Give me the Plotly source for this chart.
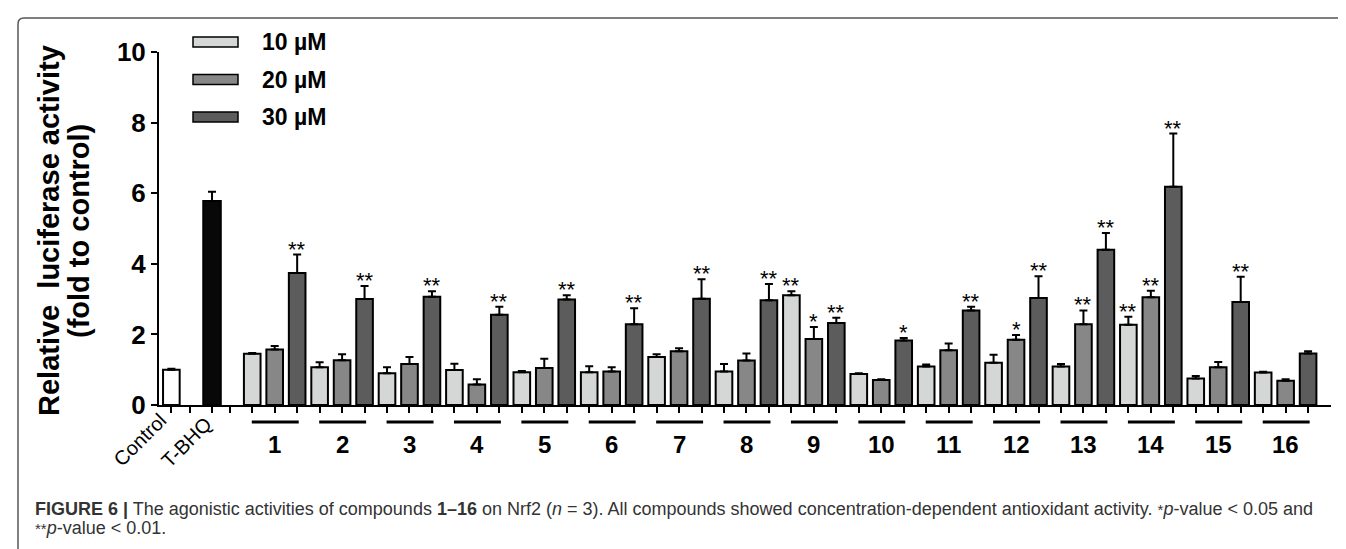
import plotly.graph_objects as go

# ---------------- data ----------------
compounds = [str(i) for i in range(1, 17)]
concentrations = ["10 µM", "20 µM", "30 µM"]

control_val, control_err = 1.00, 0.03
tbhq_val, tbhq_err = 5.78, 0.26

c10 = [1.45, 1.07, 0.90, 0.99, 0.93, 0.93, 1.36, 0.95, 3.11, 0.88, 1.09, 1.20, 1.09, 2.27, 0.75, 0.92]
e10 = [0.02, 0.14, 0.17, 0.18, 0.03, 0.17, 0.08, 0.21, 0.11, 0.02, 0.06, 0.22, 0.07, 0.23, 0.07, 0.02]
c20 = [1.57, 1.27, 1.16, 0.58, 1.05, 0.95, 1.52, 1.26, 1.87, 0.71, 1.55, 1.85, 2.29, 3.05, 1.07, 0.69]
e20 = [0.10, 0.17, 0.20, 0.15, 0.26, 0.12, 0.09, 0.20, 0.34, 0.02, 0.19, 0.13, 0.39, 0.19, 0.15, 0.04]
c30 = [3.74, 3.00, 3.07, 2.56, 2.99, 2.29, 3.01, 2.97, 2.32, 1.83, 2.68, 3.03, 4.40, 6.18, 2.92, 1.46]
e30 = [0.52, 0.37, 0.15, 0.22, 0.12, 0.45, 0.55, 0.46, 0.15, 0.07, 0.10, 0.62, 0.47, 1.51, 0.71, 0.06]

sig10 = ["", "", "", "", "", "", "", "", "**", "", "", "", "", "**", "", ""]
sig20 = ["", "", "", "", "", "", "", "", "*", "", "", "*", "**", "**", "", ""]
sig30 = ["**", "**", "**", "**", "**", "**", "**", "**", "**", "*", "**", "**", "**", "**", "**", ""]

y_ticks = [0, 2, 4, 6, 8, 10]

# ---------------- layout constants ----------------
W, H = 1346, 549
L, R, T, B = 151, 1323, 44, 397
FONT = "Arial, Liberation Sans, sans-serif"
fills = ["#d5d7d6", "#878787", "#5c5c5c"]

# slot positions (x data units): control & T-BHQ slots are slightly narrower
pos_control, pos_gap1, pos_tbhq, pos_gap2 = 0.40, 1.22, 2.21, 3.02
group_start = 4


def pos(k, j):
    return group_start + 3 * k + j


def pxx(px):
    return (px - L) / (R - L)


def pyy(py):
    return (B - py) / (B - T)


fig = go.Figure()

err_style = dict(type="data", symmetric=False, color="black", thickness=2, width=4)

fig.add_trace(go.Bar(x=[pos_control], y=[control_val], width=0.74,
                     marker=dict(color="white", line=dict(color="black", width=2)),
                     error_y=dict(array=[control_err], arrayminus=[0], **err_style),
                     showlegend=False))
fig.add_trace(go.Bar(x=[pos_tbhq], y=[tbhq_val], width=0.78,
                     marker=dict(color="#080808", line=dict(color="black", width=2)),
                     error_y=dict(array=[tbhq_err], arrayminus=[0], **err_style),
                     showlegend=False))

series = [c10, c20, c30]
errors = [e10, e20, e30]
sigs = [sig10, sig20, sig30]
annotations = []
for j in range(3):
    xs = [pos(k, j) for k in range(len(compounds))]
    fig.add_trace(go.Bar(x=xs, y=series[j], width=0.74, name=concentrations[j],
                         marker=dict(color=fills[j], line=dict(color="black", width=2)),
                         error_y=dict(array=errors[j], arrayminus=[0] * len(xs), **err_style),
                         showlegend=False))
    for k in range(len(compounds)):
        if sigs[j][k]:
            annotations.append(dict(x=xs[k], y=series[j][k] + errors[j][k], xref="x", yref="y",
                                    text=sigs[j][k], showarrow=False, xanchor="center", yanchor="bottom",
                                    yshift=-9, font=dict(family=FONT, size=22, color="black")))

# compound group underlines and labels
shapes = []
for k, c in enumerate(compounds):
    shapes.append(dict(type="line", xref="x", yref="paper", x0=pos(k, 0) - 0.02, x1=pos(k, 2) + 0.07,
                       y0=pyy(414), y1=pyy(414), line=dict(color="black", width=3)))
    annotations.append(dict(x=pos(k, 1), y=pyy(436), xref="x", yref="paper", text=c, showarrow=False,
                            xanchor="center", yanchor="middle",
                            font=dict(family=FONT, size=24, color="black", weight="bold")))

# rotated labels
for txt, px, py in [("Control", 165, 399), ("T-BHQ", 211, 402)]:
    annotations.append(dict(x=pxx(px), y=pyy(py), xref="paper", yref="paper", text=txt, showarrow=False,
                            textangle=-45, xanchor="right", yanchor="top",
                            font=dict(family=FONT, size=20, color="black")))

# y-axis title (two lines)
annotations.append(dict(x=pxx(41), y=pyy(223), xref="paper", yref="paper",
                        text="Relative  luciferase activity", showarrow=False, textangle=-90,
                        xanchor="center", yanchor="middle",
                        font=dict(family=FONT, size=29, color="black", weight="bold")))
annotations.append(dict(x=pxx(71), y=pyy(223), xref="paper", yref="paper",
                        text="(fold to control)", showarrow=False, textangle=-90,
                        xanchor="center", yanchor="middle",
                        font=dict(family=FONT, size=29, color="black", weight="bold")))

# custom legend
for j, (lab, cy) in enumerate(zip(concentrations, [34, 71.5, 109])):
    shapes.append(dict(type="rect", xref="paper", yref="paper", x0=pxx(185), x1=pxx(230),
                       y0=pyy(cy + 5), y1=pyy(cy - 5), fillcolor=fills[j],
                       line=dict(color="black", width=1.5)))
    annotations.append(dict(x=pxx(252), y=pyy(cy), xref="paper", yref="paper", text=lab,
                            showarrow=False, xanchor="left", yanchor="middle",
                            font=dict(family=FONT, size=23, color="black", weight="bold")))

# frame
path = "M {} {} L {} {} Q {} {} {} {} L {} {}".format(
    pxx(10), pyy(H + 5), pxx(10), pyy(16), pxx(10), pyy(10), pxx(16), pyy(10), pxx(W + 5), pyy(10))
shapes.append(dict(type="path", xref="paper", yref="paper", path=path, line=dict(color="#555555", width=1.5)))

# caption
small = '<span style="font-size:15px">{}</span>'
cap1 = ("<b>FIGURE 6 |</b> The agonistic activities of compounds <b>1–16</b> on Nrf2 (<i>n</i> = 3). "
        "All compounds showed concentration-dependent antioxidant activity. "
        + small.format("*") + "<i>p</i>-value &lt; 0.05 and")
cap2 = small.format("**") + "<i>p</i>-value &lt; 0.01."
for txt, cy in [(cap1, 501), (cap2, 520)]:
    annotations.append(dict(x=pxx(25), y=pyy(cy), xref="paper", yref="paper", text=txt, showarrow=False,
                            xanchor="left", yanchor="middle",
                            font=dict(family=FONT, size=18, color="#333333")))

tick_positions = [pos_control, pos_gap1, pos_tbhq, pos_gap2] + [pos(k, j) for k in range(16) for j in range(3)]

fig.update_layout(
    width=W, height=H,
    margin=dict(l=L, r=W - R, t=T, b=H - B),
    paper_bgcolor="white", plot_bgcolor="white",
    barmode="overlay",
    showlegend=False,
    xaxis=dict(range=[-0.15, 52.02], showline=True, linecolor="black", linewidth=2,
               tickvals=tick_positions, ticktext=[""] * len(tick_positions),
               ticks="outside", ticklen=6, tickwidth=2, tickcolor="black",
               showgrid=False, zeroline=False, fixedrange=True),
    yaxis=dict(range=[0, 10], showline=True, linecolor="black", linewidth=2,
               tickvals=y_ticks, ticks="outside", ticklen=6, tickwidth=2, tickcolor="black",
               tickfont=dict(family=FONT, size=26, color="black", weight="bold"),
               showgrid=False, zeroline=False, fixedrange=True),
    shapes=shapes,
    annotations=annotations,
)

fig.write_html("out.html")
